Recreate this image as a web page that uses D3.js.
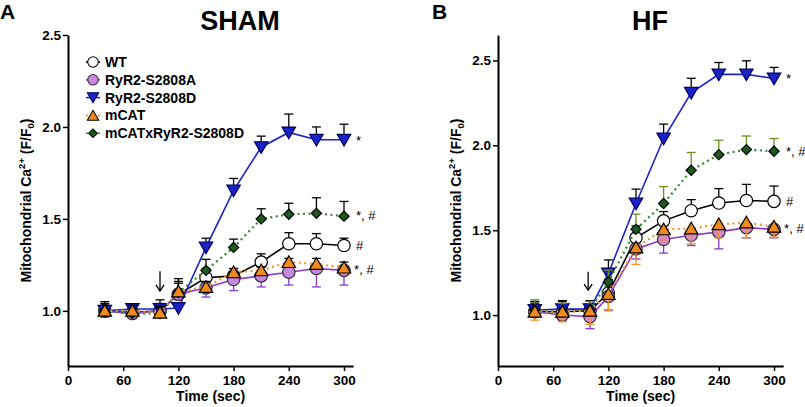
<!DOCTYPE html>
<html>
<head>
<meta charset="utf-8">
<script src="https://cdn.jsdelivr.net/npm/d3@7"></script>
<style>
  body { margin: 0; background: #fff; }
  text { font-family: "Liberation Sans", Arial, sans-serif; font-weight: bold; }
</style>
</head>
<body>
<div class="chart"></div>
<script>
// time points (sec)
const times = [40, 70, 100, 120, 150, 180, 210, 240, 270, 300];
const xTicks = [0, 60, 120, 180, 240, 300];
const yTicks = [1.0, 1.5, 2.0, 2.5];

const seriesNames = ["WT", "RyR2-S2808A", "RyR2-S2808D", "mCAT", "mCATxRyR2-S2808D"];

// SHAM means / SEM
const shamWT      = [1.00, 0.99, 1.00, 1.09, 1.18, 1.19, 1.265, 1.365, 1.365, 1.355];
const shamWTErr   = [0.05, 0.04, 0.06, 0.07, 0.05, 0.04, 0.045, 0.06, 0.055, 0.04];
const shamS2808A  = [1.00, 0.985, 1.00, 1.09, 1.125, 1.17, 1.19, 1.21, 1.23, 1.22];
const shamS2808AErr = [0.035, 0.02, 0.03, 0.03, 0.05, 0.06, 0.06, 0.07, 0.10, 0.08];
const shamS2808D  = [1.00, 1.01, 1.01, 1.015, 1.345, 1.655, 1.89, 1.97, 1.93, 1.93];
const shamS2808DErr = [0.03, 0.02, 0.03, 0.02, 0.05, 0.065, 0.06, 0.10, 0.07, 0.085];
const shamMCAT    = [1.00, 1.00, 0.99, 1.105, 1.13, 1.21, 1.22, 1.265, 1.255, 1.235];
const shamMCATErr = [0.03, 0.03, 0.03, 0.07, 0.03, 0.02, 0.02, 0.02, 0.03, 0.03];
const shamMCATD   = [1.00, 0.985, 0.985, 1.10, 1.22, 1.345, 1.50, 1.525, 1.53, 1.515];
const shamMCATDErr = [0.04, 0.03, 0.04, 0.05, 0.06, 0.045, 0.055, 0.06, 0.085, 0.08];

// HF means / SEM
const hfWT        = [1.02, 1.02, 1.025, 1.13, 1.455, 1.555, 1.615, 1.66, 1.675, 1.67];
const hfWTErr     = [0.06, 0.06, 0.06, 0.08, 0.07, 0.055, 0.065, 0.085, 0.095, 0.09];
const hfS2808A    = [1.02, 1.00, 0.99, 1.11, 1.39, 1.445, 1.47, 1.49, 1.515, 1.505];
const hfS2808AErr = [0.03, 0.03, 0.07, 0.08, 0.06, 0.08, 0.06, 0.10, 0.06, 0.05];
const hfS2808D    = [1.03, 1.035, 1.035, 1.245, 1.657, 2.04, 2.31, 2.418, 2.418, 2.394];
const hfS2808DErr = [0.04, 0.05, 0.05, 0.08, 0.085, 0.085, 0.085, 0.07, 0.08, 0.065];
const hfMCAT      = [1.02, 1.02, 1.025, 1.124, 1.398, 1.505, 1.51, 1.535, 1.545, 1.52];
const hfMCATErr   = [0.05, 0.06, 0.08, 0.10, 0.10, 0.07, 0.09, 0.08, 0.09, 0.06];
const hfMCATD     = [1.03, 1.02, 1.03, 1.195, 1.505, 1.657, 1.853, 1.945, 1.975, 1.965];
const hfMCATDErr  = [0.06, 0.05, 0.05, 0.07, 0.09, 0.10, 0.105, 0.085, 0.08, 0.075];

// significance marks [time, value, text]
const shamMarks = [[313, 1.93, "*"], [313, 1.52, "*, #"], [313, 1.36, "#"], [311, 1.225, "*, #"]];
const hfMarks   = [[313, 2.395, "*"], [313, 1.965, "*, #"], [313, 1.67, "#"], [311, 1.515, "*, #"]];

// stimulus arrow [time, top, bottom]
const shamArrow = [100, 1.215, 1.108];
const hfArrow   = [98, 1.255, 1.147];

const styles = {
  "WT":               { line: "#000", fill: "#fff", stroke: "#000", dash: null, shape: "circle" },
  "RyR2-S2808A":      { line: "#8a38d0", fill: "#c887e0", stroke: "#333", dash: null, shape: "circle" },
  "RyR2-S2808D":      { line: "#1a22c8", fill: "#1a22c8", stroke: "#000060", dash: null, shape: "tridown" },
  "mCAT":             { line: "#f0952a", fill: "#f08a1c", stroke: "#000", dash: "2,3.5", shape: "triup" },
  "mCATxRyR2-S2808D": { line: "#2e8b2e", fill: "#1d5a1d", stroke: "#000", dash: "2,3.5", shape: "diamond" }
};

const panels = [
  { title: "SHAM", label: "A", left: 68, right: 353.2, ymax: 2.5, titleX: 240, labelX: 0,
    series: [shamWT, shamS2808A, shamS2808D, shamMCAT, shamMCATD],
    errs: [shamWTErr, shamS2808AErr, shamS2808DErr, shamMCATErr, shamMCATDErr],
    dir: [1, -1, 1, 1, 1], errColor: ["#000", "#8a38d0", "#000", "#000", "#000"],
    purpleFill: "#c887e0",
    marks: shamMarks, arrow: shamArrow, legend: true },
  { title: "HF", label: "B", left: 498, right: 783.2, ymax: 2.65, titleX: 650, labelX: 432,
    series: [hfWT, hfS2808A, hfS2808D, hfMCAT, hfMCATD],
    errs: [hfWTErr, hfS2808AErr, hfS2808DErr, hfMCATErr, hfMCATDErr],
    dir: [1, -1, 1, -1, 1], errColor: ["#000", "#8a38d0", "#000", "#f0952a", "#6b8e23"],
    purpleFill: "#d58ac8",
    marks: hfMarks, arrow: hfArrow, legend: false }
];

const drawOrder = [0, 1, 2, 4, 3];

const svg = d3.select(".chart").append("svg")
  .attr("width", 805)
  .attr("height", 407);

function symbolPath(shape) {
  if (shape === "circle") return d3.symbol(d3.symbolCircle, 120)();
  if (shape === "tridown" || shape === "triup") return d3.symbol(d3.symbolTriangle, 78)();
  return d3.symbol(d3.symbolSquare, 52)();
}
function symbolRotate(shape) {
  if (shape === "tridown") return 180;
  if (shape === "diamond") return 45;
  return 0;
}

panels.forEach(p => {
  const x = d3.scaleLinear().domain([0, 310]).range([p.left, p.right]);
  const y = d3.scaleLinear().domain([0.7, p.ymax]).range([366, 35]);
  const g = svg.append("g");

  // axes
  const xAxis = g.append("g")
    .attr("transform", `translate(0, ${y(0.7)})`)
    .call(d3.axisBottom(x).tickValues(xTicks).tickSize(5).tickSizeOuter(0).tickPadding(4));
  const yAxis = g.append("g")
    .attr("transform", `translate(${x(0)}, 0)`)
    .call(d3.axisLeft(y).tickValues(yTicks).tickFormat(d3.format(".1f")).tickSize(5).tickSizeOuter(0).tickPadding(2));
  [xAxis, yAxis].forEach(a => {
    a.select(".domain").attr("stroke", "#000").attr("stroke-width", 2);
    a.selectAll(".tick line").attr("stroke", "#000").attr("stroke-width", 1.5);
    a.selectAll("text").attr("font-size", "13.5px").attr("fill", "#000")
      .attr("font-family", "Liberation Sans, Arial, sans-serif").attr("font-weight", "bold");
  });

  // axis titles
  g.append("text")
    .attr("x", (x(0) + x(310)) / 2)
    .attr("y", 401)
    .attr("text-anchor", "middle")
    .attr("font-size", "14px")
    .text("Time (sec)");

  const yl = g.append("text")
    .attr("transform", `translate(${x(0) - 37}, ${(y(0.7) + y(p.ymax)) / 2}) rotate(-90)`)
    .attr("text-anchor", "middle")
    .attr("font-size", "14px");
  yl.append("tspan").text("Mitochondrial Ca");
  yl.append("tspan").attr("font-size", "9.5px").attr("dy", -6).text("2+");
  yl.append("tspan").attr("dy", 6).text(" (F/F");
  yl.append("tspan").attr("font-size", "9.5px").attr("dy", 3).text("0");
  yl.append("tspan").attr("dy", -3).text(")");

  // title + panel letter
  g.append("text")
    .attr("x", p.titleX)
    .attr("y", 30)
    .attr("text-anchor", "middle")
    .attr("font-size", "27px")
    .text(p.title);
  g.append("text")
    .attr("x", p.labelX)
    .attr("y", 19)
    .attr("font-size", "21px")
    .text(p.label);

  // series
  drawOrder.forEach(i => {
    const st = styles[seriesNames[i]];
    const vals = p.series[i];
    const errs = p.errs[i];
    const pts = times.map((t, k) => ({ t: t, v: vals[k], e: errs[k] }));
    const fill = i === 1 ? p.purpleFill : st.fill;

    const line = d3.line().x(d => x(d.t)).y(d => y(d.v));
    g.append("path")
      .datum(pts)
      .attr("d", line)
      .attr("fill", "none")
      .attr("stroke", st.line)
      .attr("stroke-width", st.dash ? 2.2 : 1.6)
      .attr("stroke-dasharray", st.dash);

    const eb = g.append("g").attr("stroke", p.errColor[i]).attr("stroke-width", 1.3);
    eb.selectAll("line.bar")
      .data(pts)
      .enter()
      .append("line")
      .attr("x1", d => x(d.t)).attr("x2", d => x(d.t))
      .attr("y1", d => y(d.v))
      .attr("y2", d => y(d.v + p.dir[i] * d.e));
    eb.selectAll("line.cap")
      .data(pts)
      .enter()
      .append("line")
      .attr("x1", d => x(d.t) - 4.5).attr("x2", d => x(d.t) + 4.5)
      .attr("y1", d => y(d.v + p.dir[i] * d.e))
      .attr("y2", d => y(d.v + p.dir[i] * d.e));

    g.selectAll(null)
      .data(pts)
      .enter()
      .append("path")
      .attr("d", symbolPath(st.shape))
      .attr("transform", d => `translate(${x(d.t)}, ${y(d.v) + (st.shape === "triup" ? 1.5 : st.shape === "tridown" ? -1.5 : 0)}) rotate(${symbolRotate(st.shape)})`)
      .attr("fill", fill)
      .attr("stroke", st.stroke)
      .attr("stroke-width", 1.2);
  });

  // arrow
  const ax = x(p.arrow[0]);
  g.append("line")
    .attr("x1", ax).attr("x2", ax)
    .attr("y1", y(p.arrow[1])).attr("y2", y(p.arrow[2]))
    .attr("stroke", "#000").attr("stroke-width", 1.3);
  g.append("path")
    .attr("d", `M${ax - 4},${y(p.arrow[2]) - 6} L${ax},${y(p.arrow[2])} L${ax + 4},${y(p.arrow[2]) - 6}`)
    .attr("fill", "none").attr("stroke", "#000").attr("stroke-width", 1.3);

  // significance
  g.selectAll(null)
    .data(p.marks)
    .enter()
    .append("text")
    .attr("x", d => x(d[0]))
    .attr("y", d => y(d[1]) + 5)
    .attr("font-size", "13px")
    .style("font-weight", "normal")
    .text(d => d[2]);

  // legend
  if (p.legend) {
    const lg = g.append("g");
    seriesNames.forEach((name, i) => {
      const st = styles[name];
      const ly = 62 + i * 17.8;
      lg.append("line")
        .attr("x1", 86).attr("x2", 100)
        .attr("y1", ly).attr("y2", ly)
        .attr("stroke", st.line).attr("stroke-width", 1.6)
        .attr("stroke-dasharray", st.dash ? "2,2" : null);
      lg.append("path")
        .attr("d", symbolPath(st.shape))
        .attr("transform", `translate(93, ${ly + (st.shape === "triup" ? 1.5 : st.shape === "tridown" ? -1.5 : 0)}) rotate(${symbolRotate(st.shape)}) scale(0.85)`)
        .attr("fill", st.fill).attr("stroke", st.stroke).attr("stroke-width", 1.2);
      lg.append("text")
        .attr("x", 105)
        .attr("y", ly + 5)
        .attr("font-size", "14px")
        .text(name);
    });
  }
});
</script>
</body>
</html>
